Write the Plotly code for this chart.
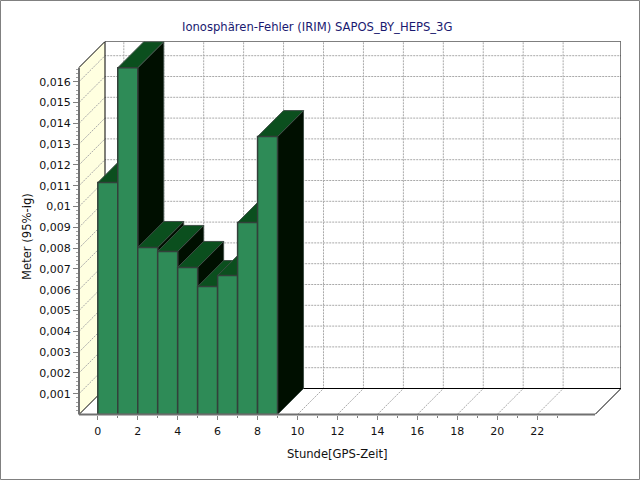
import plotly.graph_objects as go

hours = [0, 1, 2, 3, 4, 5, 6, 7, 8]
values = [0.01115, 0.01667, 0.00803, 0.00784, 0.00707, 0.00615, 0.00668, 0.00923, 0.01336]
y_ticks = [0.001, 0.002, 0.003, 0.004, 0.005, 0.006, 0.007, 0.008, 0.009, 0.01,
           0.011, 0.012, 0.013, 0.014, 0.015, 0.016]
y_labels = ["0,001", "0,002", "0,003", "0,004", "0,005", "0,006", "0,007", "0,008", "0,009", "0,01",
            "0,011", "0,012", "0,013", "0,014", "0,015", "0,016"]
x_ticks = list(range(0, 24, 2))
x_minor = list(range(1, 24, 2))
y_minor = [i * 0.0002 for i in range(1, 84) if i % 5]

W, H = 640, 480
PX_L, PX_R, PX_T, PX_B = 79, 621, 41.5, 414.5
X0_PX, X_STEP = 97.8, 19.97
Y_STEP = 20.8 / 0.001
DEPTH = 26
X_MIN = (PX_L - X0_PX) / X_STEP
X_MAX = (PX_R - X0_PX) / X_STEP
Y_MAX = (PX_B - PX_T) / Y_STEP
DX = DEPTH / X_STEP
DY = DEPTH / Y_STEP
X_END = X_MAX - DX
TOP = Y_MAX - DY

FONT = "DejaVu Sans"
TEXT = "#111111"
FACE, ROOF, SIDE, EDGE = "#2E8B57", "#0B4F1E", "#000F00", "#3F4F47"
WALL, GRID = "#FFFFE0", "#A9A9A9"

fig = go.Figure()


def poly(xs, ys, fill=None, line=None, width=1, dash="solid"):
    fig.add_trace(go.Scatter(
        x=xs, y=ys, mode="lines", hoverinfo="skip", showlegend=False, cliponaxis=False,
        fill="toself" if fill else None, fillcolor=fill,
        line=dict(color=line or "rgba(0,0,0,0)", width=width, dash=dash),
    ))


# left wall
poly([X_MIN, X_MIN + DX, X_MIN + DX, X_MIN, X_MIN], [0, DY, TOP + DY, TOP, 0], fill=WALL)

# grid
for v in y_ticks:
    poly([X_MIN, X_MIN + DX, X_MAX], [v, v + DY, v + DY], line=GRID, dash="2px,1px")
for t in x_ticks:
    poly([t, t + DX, t + DX], [0, DY, TOP + DY], line=GRID, dash="2px,1px")

# box edges
poly([X_MIN, X_MIN + DX, X_MAX, X_MAX, X_MIN + DX, X_MIN + DX], [TOP, TOP + DY, TOP + DY, DY, DY, TOP + DY], line="#000000")
poly([X_MIN, X_MIN + DX, X_MAX, X_END], [0, DY, DY, 0], line="#000000")

# bars, painted left to right
for h, v in zip(hours, values):
    r = h + 1
    poly([r, r + DX, r + DX, r, r], [0, DY, v + DY, v, 0], fill=SIDE, line=EDGE)
    poly([h, h + DX, r + DX, r, h], [v, v + DY, v + DY, v, v], fill=ROOF, line=EDGE)
    poly([h, r, r, h, h], [0, 0, v, v, 0], fill=FACE, line="#33403A", width=1.5)

fig.update_layout(
    width=W, height=H, autosize=False,
    margin=dict(l=0, r=0, t=0, b=0),
    paper_bgcolor="#FFFFFF", plot_bgcolor="rgba(0,0,0,0)",
    font=dict(family=FONT, size=11, color=TEXT),
    showlegend=False,
    xaxis=dict(
        domain=[PX_L / W, PX_R / W], range=[X_MIN, X_MAX],
        tickmode="array", tickvals=x_ticks, ticktext=[str(t) for t in x_ticks],
        ticks="outside", ticklen=4, tickcolor="#808080", showgrid=False, zeroline=False,
        showline=False, tickfont=dict(size=11, color=TEXT), ticklabelstandoff=2,
        minor=dict(tickvals=x_minor, ticks="outside", ticklen=2, tickcolor="#808080", showgrid=False),
    ),
    yaxis=dict(
        domain=[1 - PX_B / H, 1 - PX_T / H], range=[0, Y_MAX],
        tickmode="array", tickvals=y_ticks, ticktext=y_labels,
        ticks="outside", ticklen=5, tickcolor="#808080", showgrid=False, zeroline=False,
        showline=False, tickfont=dict(size=11, color=TEXT),
        minor=dict(tickvals=y_minor, ticks="outside", ticklen=2, tickcolor="#A0A0A0", showgrid=False),
    ),
    annotations=[
        dict(text="Ionosphären-Fehler (IRIM) SAPOS_BY_HEPS_3G", xref="paper", yref="paper",
             x=317 / W, y=1 - 27 / H, showarrow=False, xanchor="center", yanchor="middle",
             font=dict(family=FONT, size=11.6, color="#191970")),
        dict(text="Stunde[GPS-Zeit]", xref="paper", yref="paper",
             x=337.5 / W, y=1 - 454 / H, showarrow=False, xanchor="center", yanchor="middle",
             font=dict(family=FONT, size=11.6, color=TEXT)),
        dict(text="Meter (95%-ig)", xref="paper", yref="paper", textangle=-90,
             x=27 / W, y=1 - 237 / H, showarrow=False, xanchor="center", yanchor="middle",
             font=dict(family=FONT, size=11.6, color=TEXT)),
    ],
    shapes=[
        dict(type="rect", xref="paper", yref="paper", x0=0.5 / W, x1=1 - 0.5 / W, y0=0.5 / H, y1=1 - 0.5 / H,
             line=dict(color="#808080", width=1), layer="below"),
        dict(type="line", xref="paper", yref="paper", x0=PX_L / W, x1=PX_L / W, y0=1 - PX_B / H, y1=1 - (PX_T + 26) / H,
             line=dict(color="#707070", width=2)),
        dict(type="line", xref="paper", yref="paper", x0=PX_L / W, x1=595 / W, y0=1 - PX_B / H, y1=1 - PX_B / H,
             line=dict(color="#707070", width=2)),
    ],
)

fig.write_html("out.html", post_script="document.body.style.margin='0';", config={"displayModeBar": False})
